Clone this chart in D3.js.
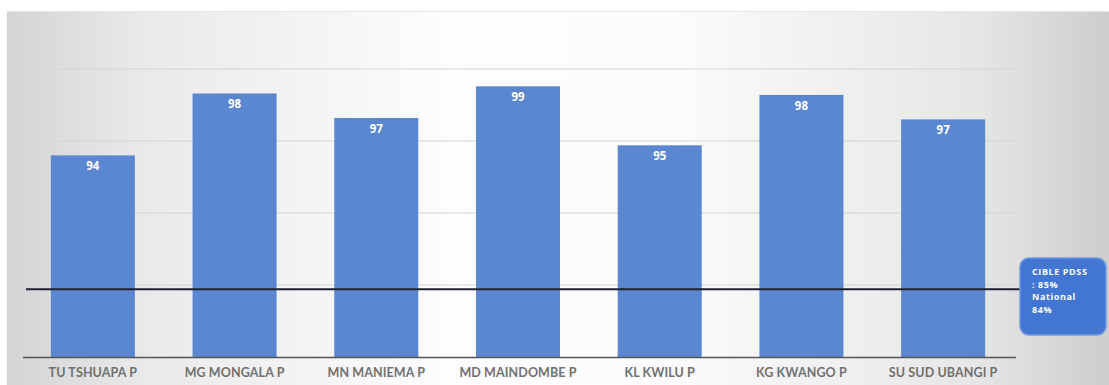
<!DOCTYPE html>
<html><head><meta charset="utf-8">
<script src="https://cdn.jsdelivr.net/npm/d3@7"></script>
<style>html,body{margin:0;padding:0;background:#fff;}svg{display:block;}</style>
</head><body>
<svg id="chart" width="1109" height="385"></svg>
<script>
const categories = ["TU TSHUAPA P","MG MONGALA P","MN MANIEMA P","MD MAINDOMBE P","KL KWILU P","KG KWANGO P","SU SUD UBANGI P"];
const values = [94.0, 98.3, 96.6, 98.8, 94.7, 98.2, 96.5];
const labels = ["94","98","97","99","95","98","97"];
const gridTicks = [80, 85, 90, 95, 100];
const targetValue = 84.7;
const noteLines = ["CIBLE PDSS", ": 85%", "National", "84%"];

const svg = d3.select("#chart");
const W = 1109, H = 385;
const defs = svg.append("defs");
const bg = defs.append("linearGradient").attr("id","bg").attr("x1","0").attr("x2","1").attr("y1","0").attr("y2","0");
bg.append("stop").attr("offset","0").attr("stop-color","#d4d4d4");
bg.append("stop").attr("offset","0.12").attr("stop-color","#e9e9e9");
bg.append("stop").attr("offset","0.4").attr("stop-color","#fdfdfd");
bg.append("stop").attr("offset","0.6").attr("stop-color","#fcfcfc");
bg.append("stop").attr("offset","0.88").attr("stop-color","#e6e6e6");
bg.append("stop").attr("offset","1").attr("stop-color","#cdcdcd");
svg.append("rect").attr("x",7).attr("y",11).attr("width",W-7).attr("height",H-11).attr("fill","url(#bg)");
svg.append("line").attr("x1",7).attr("x2",W).attr("y1",11.5).attr("y2",11.5).attr("stroke","#e6e6e6");

const x = d3.scaleBand().domain(categories).range([22, 1014]).paddingInner(0.407).paddingOuter(0.2035);
const y = d3.scaleLinear().domain([80, 104]).range([357, 11.4]);

// gridlines
svg.append("g").selectAll("line").data(gridTicks.slice(1)).join("line")
  .attr("x1",23).attr("x2",1016).attr("y1",d=>y(d)).attr("y2",d=>y(d))
  .attr("stroke","#d4d4d4").attr("stroke-width",1.2);

// bars
svg.append("g").selectAll("rect").data(values).join("rect")
  .attr("x",(d,i)=>x(categories[i])).attr("width",x.bandwidth())
  .attr("y",d=>y(d)).attr("height",d=>y(80)-y(d)).attr("fill","#5b86d0");

// value labels
svg.append("g").selectAll("text").data(values).join("text")
  .attr("x",(d,i)=>x(categories[i])+x.bandwidth()/2).attr("y",d=>y(d)+15)
  .attr("text-anchor","middle").attr("fill","#fff").attr("font-family","'Open Sans', sans-serif")
  .attr("font-weight","bold").attr("font-size","11.5px").text((d,i)=>labels[i]);

// baseline
svg.append("line").attr("x1",23).attr("x2",1016).attr("y1",y(80)+0.5).attr("y2",y(80)+0.5).attr("stroke","#555").attr("stroke-width",1.5);

// x axis labels
const xAxis = d3.axisBottom(x).tickSize(0).tickPadding(11);
const gx = svg.append("g").attr("transform",`translate(0,${y(80)})`).call(xAxis);
gx.select(".domain").remove();
gx.selectAll("text").attr("font-family","Lato, sans-serif").attr("font-size","12.5px").attr("font-weight","bold").attr("fill","#707070").attr("letter-spacing","0.1px");

// target line
svg.append("line").attr("x1",26).attr("x2",1021).attr("y1",y(targetValue)).attr("y2",y(targetValue))
  .attr("stroke","#1c2230").attr("stroke-width",2);

// note box
const bx = 1020, by = 258, bw = 86, bh = 77;
svg.append("rect").attr("x",bx).attr("y",by).attr("width",bw).attr("height",bh).attr("rx",9)
  .attr("fill","#4276d2").attr("stroke","#6e9be0").attr("stroke-width",1.5);
svg.append("g").selectAll("text").data(noteLines).join("text")
  .attr("x",bx+12).attr("y",(d,i)=>by+17+i*12.5)
  .attr("fill","#fff").attr("font-family","'Open Sans', sans-serif").attr("font-weight","bold")
  .attr("font-size","9px").attr("letter-spacing","0.6px").text(d=>d);
</script>
</body></html>
